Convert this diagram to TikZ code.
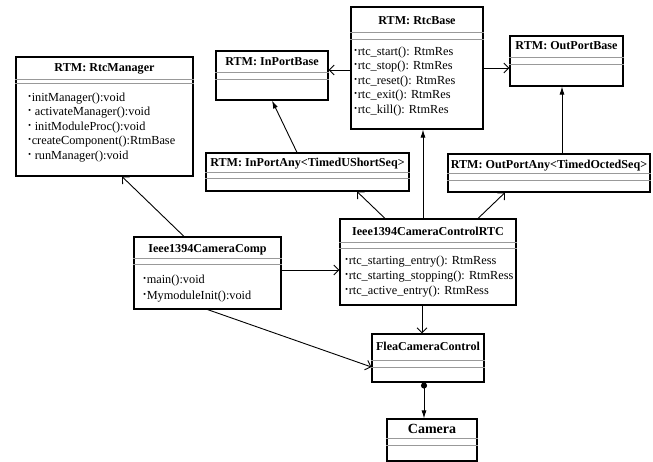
\documentclass[tikz,border=0pt]{standalone}
\usepackage{fontspec}
\setmainfont{Liberation Serif}
\usetikzlibrary{arrows.meta}
\newcommand\umlbox[9]{%
  \node[box,minimum width=#4pt,minimum height=#5pt] (#1) at (#2,#3) {};
  \node[ttl] (#1-t) at ([yshift=-#7pt]#1.north) {#6};
  \draw[sep] ([yshift=-#8pt]#1.north west) -- ([yshift=-#8pt]#1.north east);
  \draw[sep] ([yshift=-#9pt]#1.north west) -- ([yshift=-#9pt]#1.north east);
}
\newcommand\bul{\raisebox{0.8pt}{\textbf{·}}}
\begin{document}
\begin{tikzpicture}[x=1pt,y=-1pt,
  box/.style={draw=black,line width=1.1pt,rectangle,inner sep=0pt,fill=white},
  sep/.style={draw=black!40,line width=0.9pt},
  ttl/.style={font=\fontsize{12.1}{14}\selectfont\bfseries,inner sep=0pt,text height=8.5pt,text depth=2.5pt},
  mth/.style={font=\fontsize{12.3}{14.5}\selectfont,align=left,inner sep=0pt,anchor=north west},
  conn/.style={draw=black,line width=0.9pt},
  dep/.style={conn,-{Straight Barb[length=5pt,width=10pt]}},
  gen/.style={conn,-{Latex[length=8pt,width=5pt]}},
]
\useasboundingbox (0,0) rectangle (653,462);
\fill[white] (0,0) rectangle (653,462);

\umlbox{rm}{104.5}{116.5}{177}{119}{RTM: RtcManager}{12}{23}{27}
\umlbox{ipb}{272}{75.5}{112}{49}{RTM: InPortBase}{12}{22}{29}
\umlbox{rb}{417}{68}{132}{122}{RTM: RtcBase}{15}{26}{33}
\umlbox{opb}{566.5}{61}{113}{50}{RTM: OutPortBase}{11}{22}{29}
\umlbox{ipa}{307.5}{172}{203}{38}{RTM: InPortAny<TimedUShortSeq>}{11}{20}{26}
\umlbox{opa}{549}{173}{202}{38}{RTM: OutPortAny<TimedOctedSeq>}{12}{20}{27}
\umlbox{cc}{207.5}{273}{147}{72}{Ieee1394CameraComp}{13}{22}{28}
\umlbox{rtc}{428}{262}{176}{86}{Ieee1394CameraControlRTC}{14}{24}{30}
\umlbox{fcc}{428}{358}{112}{48}{FleaCameraControl}{14}{27}{34}
\umlbox{cam}{432}{440}{90}{42}{\fontsize{14}{16}\selectfont Camera}{12}{20}{27}

\node[mth] (rm-m) at ([xshift=12pt,yshift=-36pt]rm.north west)
  {\bul initManager():void\\\bul\ activateManager():void\\\bul\ initModuleProc():void\\\bul createComponent():RtmBase\\\bul\ runManager():void};
\node[mth] (rb-m) at ([xshift=3pt,yshift=-40pt]rb.north west)
  {\bul rtc\_start(): RtmRes\\\bul rtc\_stop(): RtmRes\\\bul rtc\_reset(): RtmRes\\\bul rtc\_exit(): RtmRes\\\bul rtc\_kill(): RtmRes};
\node[mth,font=\fontsize{12.3}{16}\selectfont] (cc-m) at ([xshift=9pt,yshift=-38pt]cc.north west)
  {\bul main():void\\\bul MymoduleInit():void};
\node[mth,font=\fontsize{12.3}{15}\selectfont] (rtc-m) at ([xshift=5pt,yshift=-37pt]rtc.north west)
  {\bul rtc\_starting\_entry(): RtmRess\\\bul rtc\_starting\_stopping(): RtmRess\\\bul rtc\_active\_entry(): RtmRess};

% connectors
\draw[dep] ([yshift=-2pt]rb.west) -- ([yshift=5.5pt]ipb.east);
\draw[dep] (rb.east) -- ([yshift=-7pt]opb.west);
\draw[gen] ([xshift=-10.5pt]ipa.north) -- (ipb.south);
\draw[gen] ([xshift=-5pt]rtc.north) -- ([xshift=6pt]rb.south);
\draw[dep] ([xshift=-43pt]rtc.north) -- ([xshift=49.5pt]ipa.south);
\draw[dep] ([xshift=50pt]rtc.north) -- ([xshift=-44pt]opa.south);
\draw[gen] ([xshift=13pt]opa.north) -- ([xshift=-4.5pt]opb.south);
\draw[dep] ([xshift=-23.5pt]cc.north) -- ([xshift=17.5pt]rm.south);
\draw[dep] ([yshift=3pt]cc.east) -- ([yshift=-8pt]rtc.west);
\draw[dep] (cc.south) -- ([yshift=-9pt]fcc.west);
\draw[dep] ([xshift=-6pt]rtc.south) -- ([xshift=-6pt]fcc.north);
\draw[gen,{Circle[length=6pt]}-{Latex[length=8pt,width=5pt]}] ([xshift=-4pt]fcc.south) -- ([xshift=-8pt]cam.north);
\end{tikzpicture}
\end{document}
